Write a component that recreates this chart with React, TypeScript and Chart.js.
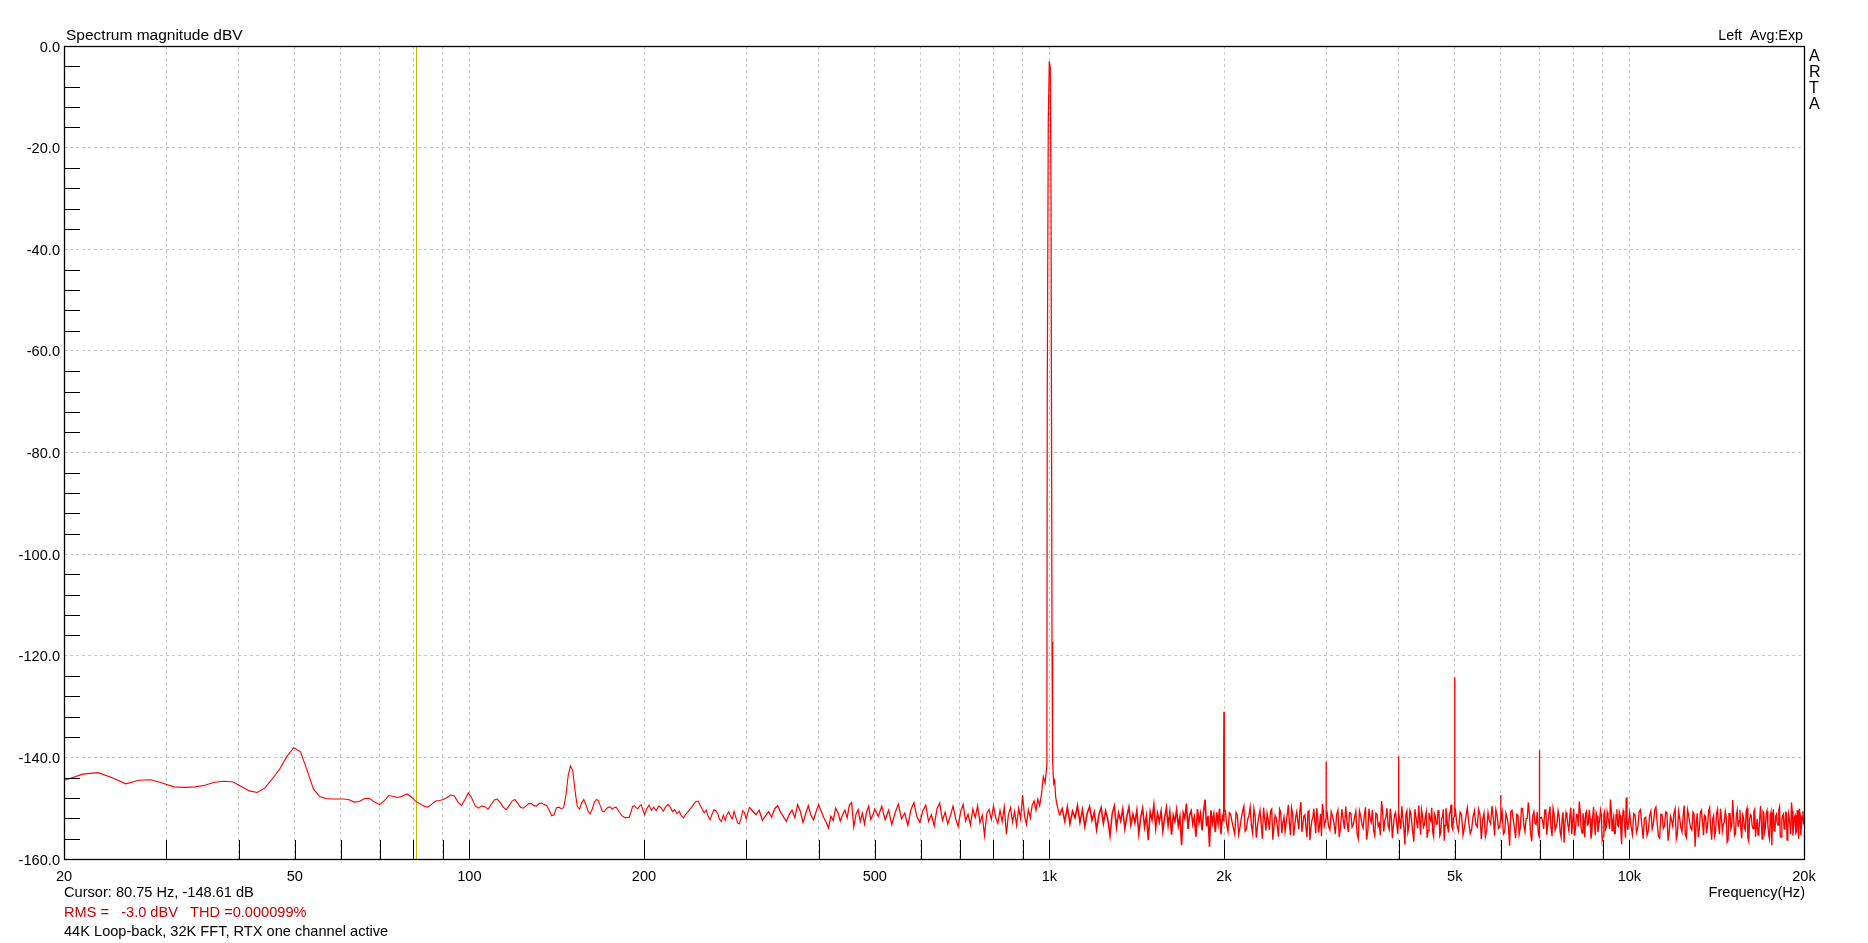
import React, { useEffect, useRef } from "react";
import { Chart, registerables } from "chart.js";

Chart.register(...registerables);

const FONT = '"Liberation Sans", Arial, Helvetica, sans-serif';

// ---------- Spectrum data (Hz, dBV) ----------
// 20 Hz – 200 Hz (FFT bins)
const lowFreq = [
  18.84, 20.19, 21.53, 22.88, 24.22, 25.57, 26.92, 28.26, 29.61, 30.95,
  32.3, 33.65, 34.99, 36.34, 37.68, 39.03, 40.37, 41.72, 43.07, 44.41,
  45.76, 47.1, 48.45, 49.8, 51.14, 52.49, 53.83, 55.18, 56.52, 57.87,
  59.22, 60.56, 61.91, 63.25, 64.6, 65.94, 67.29, 68.64, 69.98, 71.33,
  72.67, 74.02, 75.36, 76.71, 78.06, 79.4, 80.75, 82.09, 83.44, 84.79,
  86.13, 87.48, 88.82, 90.17, 91.51, 92.86, 94.21, 95.55, 96.9, 98.24,
  99.59, 100.93, 102.28, 103.63, 104.97, 106.32, 107.66, 109.01, 110.35, 111.7,
  113.05, 114.39, 115.74, 117.08, 118.43, 119.78, 121.12, 122.47, 123.81, 125.16,
  126.5, 127.85, 129.2, 130.54, 131.89, 133.23, 134.58, 135.93, 137.27, 138.62,
  139.96, 141.31, 142.65, 144.0, 145.35, 146.69, 148.04, 149.38, 150.73, 152.08,
  153.42, 154.77, 156.11, 157.46, 158.8, 160.15, 161.5, 162.84, 164.19, 165.53,
  166.88, 168.22, 169.57, 170.92, 172.26, 173.61, 174.95, 176.3, 177.65, 178.99,
  180.34, 181.68, 183.03, 184.37, 185.72, 187.07, 188.41, 189.76, 191.1, 192.45,
  193.8, 195.14, 196.49, 197.83, 199.18, 200.52,
];
const lowDb = [
  -145.0, -144.4, -143.3, -143.0, -144.0, -145.2, -144.5, -144.4, -145.1, -145.8,
  -145.9, -145.8, -145.5, -144.9, -144.7, -144.8, -145.7, -146.6, -146.9, -146.0,
  -144.2, -142.3, -139.8, -138.1, -138.9, -142.5, -146.2, -147.7, -148.1, -148.2,
  -148.2, -148.2, -148.3, -148.8, -148.7, -148.1, -148.1, -148.8, -149.3, -148.5,
  -147.5, -147.7, -147.9, -147.6, -147.2, -147.8, -148.61, -149.1, -149.6, -149.8,
  -149.2, -148.6, -148.5, -148.3, -147.9, -147.4, -147.6, -148.8, -149.5, -148.3,
  -147.0, -148.0, -149.5, -150.0, -149.6, -149.7, -150.2, -149.3, -148.4, -148.2,
  -148.9, -149.8, -150.3, -149.5, -148.6, -148.3, -149.0, -149.8, -150.0, -149.6,
  -149.1, -149.1, -149.5, -149.6, -149.1, -149.0, -149.3, -149.5, -150.4, -151.5,
  -151.3, -149.9, -149.8, -150.1, -149.9, -147.5, -143.5, -141.7, -142.6, -146.5,
  -149.6, -150.2, -149.0, -148.3, -149.3, -150.6, -151.1, -150.2, -148.9, -148.3,
  -148.5, -149.6, -150.6, -150.7, -150.1, -149.8, -149.8, -150.2, -149.9, -149.8,
  -150.3, -150.9, -151.4, -151.7, -151.9, -151.8, -151.9, -150.9, -149.7, -149.5,
  -149.9, -150.1, -149.6, -149.3, -150.4, -151.3,
];

// 200 Hz – 990 Hz
const midFreq = [
  202, 204, 206, 208, 210, 212, 214, 216, 218, 220,
  222, 224, 226, 228, 230, 232, 234, 236, 238, 240,
  242, 244, 246, 248, 250, 252, 254, 256, 258, 260,
  262, 264, 266, 268, 270, 272, 274, 276, 278, 280,
  282, 284, 286, 288, 290, 292, 294, 296, 298, 300,
  304, 308, 312, 316, 320, 324, 328, 332, 336, 340,
  344, 348, 352, 356, 360, 364, 368, 372, 376, 380,
  384, 388, 392, 396, 400, 404, 408, 412, 416, 420,
  424, 428, 432, 436, 440, 444, 448, 452, 456, 460,
  464, 468, 472, 476, 480, 484, 488, 492, 496, 500,
  507, 514, 521, 528, 535, 542, 549, 556, 563, 570,
  577, 584, 591, 598, 605, 612, 619, 626, 633, 640,
  647, 654, 661, 668, 675, 682, 689, 696, 703, 710,
  717, 724, 731, 738, 745, 752, 759, 766, 773, 780,
  787, 794, 801, 808, 815, 822, 829, 836, 843, 850,
  857, 864, 871, 878, 885, 892, 899, 906, 913, 920,
  927, 934, 941, 948, 955, 962, 969, 976, 983, 990,
];
const midDb = [
  -150.2, -149.4, -150.4, -149.8, -150.5, -149.6, -149.9, -150.6, -149.7, -149.3,
  -149.8, -150.7, -150.3, -151.1, -150.6, -151.5, -151.9, -151.2, -150.8, -150.2,
  -149.7, -149.1, -148.7, -148.6, -149.4, -150.2, -150.9, -150.4, -151.6, -152.3,
  -151.2, -150.3, -150.5, -151.1, -152.2, -152.6, -151.4, -152.4, -151.3, -150.7,
  -151.6, -152.1, -150.6, -151.8, -152.9, -153.1, -152.0, -150.5, -150.9, -152.1,
  -149.8, -150.6, -151.3, -150.4, -152.4, -151.5, -150.7, -151.8, -150.1, -149.5,
  -150.8, -151.7, -152.6, -151.2, -150.4, -151.9, -149.3, -150.6, -152.8, -151.1,
  -149.5, -151.4, -152.3, -150.7, -149.3, -150.5, -151.8, -152.7, -153.9, -151.6,
  -152.4, -150.0, -150.9, -152.5, -151.3, -150.4, -151.9, -149.4, -148.9, -153.7,
  -151.2, -150.3, -152.6, -151.0, -153.1, -150.7, -149.6, -152.2, -151.4, -150.2,
  -151.6, -149.6, -152.3, -150.4, -153.2, -150.9, -149.2, -152.1, -151.0, -153.4,
  -150.3, -148.9, -151.7, -152.8, -150.5, -149.4, -152.6, -151.3, -153.5, -150.1,
  -149.0, -152.4, -150.8, -153.1, -151.5, -149.6, -152.0, -153.6, -150.7, -149.3,
  -152.5, -151.2, -153.3, -150.2, -151.8, -149.5, -152.9, -151.4, -155.4, -151.0,
  -150.3, -152.2, -149.6, -151.9, -153.0, -150.4, -152.6, -149.8, -155.1, -151.2,
  -149.9, -152.7, -150.6, -153.4, -150.0, -152.1, -147.4, -151.5, -153.2, -150.3,
  -151.9, -149.4, -148.6, -150.4, -148.2, -149.5, -147.3, -143.8, -145.0, -141.5,
];

// 1 kHz fundamental
const fundFreq = [991.5, 995.6, 999.6, 1003.6, 1006.4, 1010.4, 1013.0, 1017.0, 1021.0, 1025.0];
const fundDb = [-69.5, -14.4, -3.0, -4.4, -30.1, -117.3, -141.1, -145.1, -144.5, -147.7];

// noise floor 1 kHz – 2 kHz
const noiseFreq1k = [
  1030, 1041, 1052, 1063, 1074, 1085, 1096, 1107, 1118, 1129,
  1140, 1151, 1162, 1173, 1184, 1195, 1206, 1217, 1228, 1239,
  1250, 1261, 1272, 1283, 1294, 1305, 1316, 1327, 1338, 1349,
  1360, 1371, 1382, 1393, 1404, 1415, 1426, 1437, 1448, 1459,
  1470, 1481, 1492, 1503, 1514, 1525, 1536, 1547, 1558, 1569,
  1580, 1591, 1602, 1613, 1624, 1635, 1646, 1657, 1668, 1679,
  1690, 1701, 1712, 1723, 1734, 1745, 1756, 1767, 1778, 1789,
  1800, 1811, 1822, 1833, 1844, 1855, 1866, 1877, 1888, 1899,
  1910, 1921, 1932, 1943, 1954, 1965, 1976, 1987, 1996,
];
const noiseDb1k = [
  -149.2, -151.4, -150.1, -152.6, -149.8, -153.1, -150.6, -151.9, -149.5, -152.8,
  -150.3, -153.6, -151.0, -149.7, -152.4, -150.8, -154.2, -151.3, -149.9, -153.0,
  -150.5, -152.2, -155.4, -151.1, -149.6, -153.8, -150.9, -152.5, -150.2, -154.0,
  -151.6, -149.8, -153.3, -151.2, -152.9, -150.4, -155.0, -151.8, -150.0, -153.7,
  -151.5, -156.3, -150.7, -152.3, -149.4, -153.9, -151.0, -152.7, -150.6, -154.5,
  -151.9, -149.9, -153.4, -150.8, -155.2, -151.4, -152.6, -150.3, -153.5, -151.7,
  -157.3, -150.9, -152.0, -149.1, -154.1, -151.3, -150.5, -153.2, -151.8, -155.6,
  -150.2, -152.8, -151.1, -154.4, -150.7, -148.3, -153.6, -151.5, -157.6, -150.4,
  -152.9, -151.2, -154.7, -150.8, -153.0, -150.1, -155.1, -151.6, -152.4,
];

// noise floor 2 kHz – 3 kHz
const noiseFreq2k = [
  2010, 2032, 2054, 2076, 2098, 2120, 2142, 2164, 2186, 2208,
  2230, 2252, 2274, 2296, 2318, 2340, 2362, 2384, 2406, 2428,
  2450, 2472, 2494, 2516, 2538, 2560, 2582, 2604, 2626, 2648,
  2670, 2692, 2714, 2736, 2758, 2780, 2802, 2824, 2846, 2868,
  2890, 2912, 2934, 2956, 2978,
];
const noiseDb2k = [
  -150.3, -154.6, -151.2, -153.9, -150.8, -155.2, -152.0, -149.6, -154.1, -151.5,
  -153.4, -150.1, -155.8, -151.7, -153.0, -149.9, -154.4, -152.3, -150.6, -156.2,
  -151.4, -153.7, -150.2, -154.9, -151.8, -152.9, -149.4, -155.3, -151.0, -153.6,
  -150.7, -154.2, -148.8, -153.1, -151.3, -155.7, -150.5, -154.0, -151.9, -152.6,
  -150.0, -154.8, -151.1, -149.2, -153.5,
];
const noiseFreq2kB = [
  2021, 2043, 2065, 2087, 2109, 2131, 2153, 2175, 2197, 2219,
  2241, 2263, 2285, 2307, 2329, 2351, 2373, 2395, 2417, 2439,
  2461, 2483, 2505, 2527, 2549, 2571, 2593, 2615, 2637, 2659,
  2681, 2703, 2725, 2747, 2769, 2791, 2813, 2835, 2857, 2879,
  2901, 2923, 2945, 2967,
];
const noiseDb2kB = [
  -153.2, -150.9, -152.7, -155.1, -151.4, -153.8, -150.6, -154.5, -152.2, -149.8,
  -155.0, -151.6, -153.4, -150.4, -156.0, -152.1, -151.0, -154.3, -150.2, -153.5,
  -151.9, -155.6, -150.8, -152.9, -154.6, -151.2, -153.0, -149.9, -155.4, -151.7,
  -152.6, -150.3, -154.7, -151.5, -153.9, -150.7, -156.3, -152.4, -150.1, -154.9,
  -151.8, -153.3, -155.5, -150.5,
];

// noise floor 3 kHz – 5 kHz
const noiseFreq3k = [
  3012, 3045, 3078, 3111, 3144, 3177, 3210, 3243, 3276, 3309,
  3342, 3375, 3408, 3441, 3474, 3507, 3540, 3573, 3606, 3639,
  3672, 3705, 3738, 3771, 3804, 3837, 3870, 3903, 3936, 3969,
  4002, 4035, 4068, 4101, 4134, 4167, 4200, 4233, 4266, 4299,
  4332, 4365, 4398, 4431, 4464, 4497, 4530, 4563, 4596, 4629,
  4662, 4695, 4728, 4761, 4794, 4827, 4860, 4893, 4926, 4959,
  4992,
];
const noiseDb3k = [
  -150.9, -154.3, -151.6, -155.1, -150.4, -153.8, -152.2, -149.7, -154.7, -151.0,
  -153.2, -150.6, -156.0, -151.5, -153.9, -149.8, -154.5, -152.1, -150.3, -155.4,
  -151.2, -153.0, -148.6, -154.6, -151.7, -153.5, -150.1, -155.9, -151.3, -152.8,
  -150.8, -154.1, -151.9, -157.2, -150.5, -153.6, -151.1, -154.9, -150.2, -152.7,
  -149.5, -155.2, -151.4, -153.3, -150.7, -154.4, -152.0, -149.9, -155.6, -151.6,
  -153.1, -150.4, -154.8, -151.8, -156.4, -150.0, -153.7, -151.2, -149.3, -154.2,
  -151.5,
];
const noiseFreq3kB = [
  3028, 3061, 3094, 3127, 3160, 3193, 3226, 3259, 3292, 3325,
  3358, 3391, 3424, 3457, 3490, 3523, 3556, 3589, 3622, 3655,
  3688, 3721, 3754, 3787, 3820, 3853, 3886, 3919, 3952, 3985,
  4018, 4051, 4084, 4117, 4150, 4183, 4216, 4249, 4282, 4315,
  4348, 4381, 4414, 4447, 4480, 4513, 4546, 4579, 4612, 4645,
  4678, 4711, 4744, 4777, 4810, 4843, 4876, 4909, 4942, 4975,
];
const noiseDb3kB = [
  -153.5, -150.7, -152.9, -151.3, -155.7, -150.2, -154.1, -152.6, -150.9, -153.7,
  -151.8, -154.9, -150.5, -153.1, -151.6, -156.2, -150.1, -152.8, -154.4, -151.0,
  -153.6, -155.3, -150.6, -152.4, -150.0, -154.2, -151.9, -153.3, -150.8, -155.0,
  -152.3, -149.6, -153.9, -151.2, -154.7, -150.4, -153.0, -156.6, -151.5, -154.0,
  -152.1, -150.3, -153.8, -151.7, -155.8, -150.9, -152.5, -154.6, -151.1, -153.2,
  -150.5, -155.4, -152.0, -150.2, -153.4, -151.4, -154.8, -150.7, -153.6, -151.9,
];

// noise floor 5 kHz – 10 kHz
const noiseFreq5k = [
  5015, 5075, 5135, 5195, 5255, 5315, 5375, 5435, 5495, 5555,
  5615, 5675, 5735, 5795, 5855, 5915, 5975, 6035, 6095, 6155,
  6215, 6275, 6335, 6395, 6455, 6515, 6575, 6635, 6695, 6755,
  6815, 6875, 6935, 6995, 7055, 7115, 7175, 7235, 7295, 7355,
  7415, 7475, 7535, 7595, 7655, 7715, 7775, 7835, 7895, 7955,
  8015, 8075, 8135, 8195, 8255, 8315, 8375, 8435, 8495, 8555,
  8615, 8675, 8735, 8795, 8855, 8915, 8975, 9035, 9095, 9155,
  9215, 9275, 9335, 9395, 9455, 9515, 9575, 9635, 9695, 9755,
  9815, 9875, 9935,
];
const noiseDb5k = [
  -150.6, -154.5, -151.3, -153.8, -149.9, -155.0, -151.7, -153.2, -150.2, -156.1,
  -151.0, -154.3, -152.4, -149.6, -155.4, -151.5, -153.6, -150.8, -154.7, -151.9,
  -157.4, -150.4, -153.9, -151.2, -155.2, -150.0, -153.3, -152.1, -148.9, -154.9,
  -151.4, -153.0, -150.7, -155.8, -151.8, -154.1, -150.3, -152.9, -149.7, -155.5,
  -151.1, -153.7, -150.5, -154.6, -152.2, -156.8, -150.9, -153.4, -151.6, -155.1,
  -150.1, -154.0, -151.3, -148.7, -153.8, -151.0, -155.7, -150.6, -153.1, -152.0,
  -154.8, -149.8, -155.3, -151.5, -153.5, -150.4, -156.3, -151.2, -154.2, -150.8,
  -152.7, -148.3, -154.4, -151.7, -155.0, -150.2, -153.6, -151.4, -157.1, -150.5,
  -153.9, -147.9, -154.3,
];
const noiseFreq5kB = [
  5045, 5105, 5165, 5225, 5285, 5345, 5405, 5465, 5525, 5585,
  5645, 5705, 5765, 5825, 5885, 5945, 6005, 6065, 6125, 6185,
  6245, 6305, 6365, 6425, 6485, 6545, 6605, 6665, 6725, 6785,
  6845, 6905, 6965, 7025, 7085, 7145, 7205, 7265, 7325, 7385,
  7445, 7505, 7565, 7625, 7685, 7745, 7805, 7865, 7925, 7985,
  8045, 8105, 8165, 8225, 8285, 8345, 8405, 8465, 8525, 8585,
  8645, 8705, 8765, 8825, 8885, 8945, 9005, 9065, 9125, 9185,
  9245, 9305, 9365, 9425, 9485, 9545, 9605, 9665, 9725, 9785,
  9845, 9905,
];
const noiseDb5kB = [
  -153.4, -150.8, -155.3, -151.6, -152.9, -154.2, -150.5, -153.7, -151.2, -152.3,
  -155.6, -150.9, -153.1, -151.8, -150.3, -154.0, -152.6, -155.1, -151.0, -153.5,
  -150.6, -152.2, -155.9, -151.4, -153.8, -150.1, -154.6, -152.0, -151.3, -156.5,
  -150.7, -153.2, -154.8, -151.9, -152.5, -150.4, -155.2, -151.1, -153.9, -150.0,
  -154.3, -152.8, -151.5, -155.7, -150.8, -153.0, -151.7, -154.5, -149.9, -152.4,
  -155.4, -151.2, -153.6, -150.5, -154.9, -152.1, -151.0, -153.3, -150.3, -156.0,
  -151.6, -153.1, -150.9, -154.7, -152.3, -151.4, -155.5, -150.6, -153.7, -151.8,
  -154.1, -150.2, -152.7, -155.0, -151.3, -153.4, -150.7, -154.4, -152.0, -151.1,
  -155.8, -152.5,
];

// noise floor 10 kHz – 20 kHz
const noiseFreq10k = [
  10010, 10120, 10230, 10340, 10450, 10560, 10670, 10780, 10890, 11000,
  11110, 11220, 11330, 11440, 11550, 11660, 11770, 11880, 11990, 12100,
  12210, 12320, 12430, 12540, 12650, 12760, 12870, 12980, 13090, 13200,
  13310, 13420, 13530, 13640, 13750, 13860, 13970, 14080, 14190, 14300,
  14410, 14520, 14630, 14740, 14850, 14960, 15070, 15180, 15290, 15400,
  15510, 15620, 15730, 15840, 15950, 16060, 16170, 16280, 16390, 16500,
  16610, 16720, 16830, 16940, 17050, 17160, 17270, 17380, 17490, 17600,
  17710, 17820, 17930, 18040, 18150, 18260, 18370, 18480, 18590, 18700,
  18810, 18920, 19030, 19140, 19250, 19360, 19470, 19580, 19690, 19800,
  19910, 19995,
];
const noiseDb10k = [
  -150.9, -155.2, -151.4, -153.8, -150.3, -156.0, -151.8, -154.4, -150.6, -153.1,
  -149.8, -155.5, -151.2, -154.0, -150.7, -156.4, -151.6, -153.6, -150.1, -155.0,
  -152.0, -154.7, -149.5, -155.8, -151.3, -153.9, -150.8, -157.6, -151.0, -154.2,
  -150.4, -155.3, -151.7, -153.4, -149.9, -156.2, -151.5, -154.6, -150.2, -155.1,
  -151.9, -153.2, -150.6, -156.7, -151.1, -154.1, -148.4, -155.4, -151.4, -153.7,
  -150.3, -155.9, -151.8, -154.3, -150.0, -156.5, -151.3, -153.5, -150.7, -155.6,
  -152.1, -154.8, -149.6, -156.1, -151.0, -153.8, -150.5, -155.2, -151.6, -157.3,
  -150.2, -154.5, -151.2, -153.3, -149.7, -155.7, -151.5, -154.0, -150.8, -156.3,
  -151.1, -153.6, -148.9, -155.4, -151.7, -154.9, -150.4, -156.0, -151.3, -153.4,
  -150.6, -152.8,
];
const noiseFreq10kB = [
  10065, 10175, 10285, 10395, 10505, 10615, 10725, 10835, 10945, 11055,
  11165, 11275, 11385, 11495, 11605, 11715, 11825, 11935, 12045, 12155,
  12265, 12375, 12485, 12595, 12705, 12815, 12925, 13035, 13145, 13255,
  13365, 13475, 13585, 13695, 13805, 13915, 14025, 14135, 14245, 14355,
  14465, 14575, 14685, 14795, 14905, 15015, 15125, 15235, 15345, 15455,
  15565, 15675, 15785, 15895, 16005, 16115, 16225, 16335, 16445, 16555,
  16665, 16775, 16885, 16995, 17105, 17215, 17325, 17435, 17545, 17655,
  17765, 17875, 17985, 18095, 18205, 18315, 18425, 18535, 18645, 18755,
  18865, 18975, 19085, 19195, 19305, 19415, 19525, 19635, 19745, 19855,
  19965,
];
const noiseDb10kB = [
  -153.6, -151.1, -154.8, -150.7, -153.2, -152.0, -155.4, -151.5, -154.1, -150.4,
  -152.8, -155.9, -151.3, -153.5, -150.9, -154.6, -152.4, -151.0, -156.1, -150.6,
  -153.8, -151.7, -155.2, -150.3, -152.9, -154.3, -151.2, -153.1, -155.7, -150.8,
  -152.6, -151.4, -154.9, -150.5, -153.7, -152.2, -155.5, -151.0, -153.3, -150.1,
  -154.5, -152.7, -151.6, -156.3, -150.9, -153.4, -151.8, -155.0, -150.4, -152.5,
  -154.2, -151.3, -153.9, -150.6, -155.8, -152.1, -151.5, -154.0, -150.2, -153.6,
  -155.3, -151.9, -152.8, -150.7, -154.7, -151.1, -153.2, -156.0, -150.8, -152.4,
  -154.4, -151.6, -153.0, -150.3, -155.6, -152.3, -151.2, -154.1, -150.9, -153.8,
  -152.0, -155.1, -150.5, -153.5, -151.4, -154.6, -152.6, -150.1, -155.3, -151.7,
  -153.1,
];

// harmonics 2k..7k (bins around each line)
const harmFreq = [
  1998.6, 2000.0, 2001.3,
  2998.6, 2999.9, 3001.3,
  3997.2, 3998.5, 3999.9, 4001.2,
  4998.5, 4999.8, 5001.1,
  5998.5, 5999.8, 6001.1,
  6997.1, 6998.4, 6999.8, 7001.1,
];
const harmDb = [
  -141.7, -131.0, -150.6,
  -152.1, -140.9, -151.4,
  -152.5, -140.0, -139.8, -151.2,
  -150.8, -124.3, -149.6,
  -152.0, -147.4, -151.7,
  -150.9, -139.5, -138.6, -152.2,
];

// ---------- axes / labels ----------
const yTicks = [0, -20, -40, -60, -80, -100, -120, -140, -160];
const yMinorTicks = [
  -4, -8, -12, -16, -24, -28, -32, -36, -44, -48, -52, -56, -64, -68, -72, -76,
  -84, -88, -92, -96, -104, -108, -112, -116, -124, -128, -132, -136, -144, -148, -152, -156,
];
const xGrid = [
  20, 30, 40, 50, 60, 70, 80, 90, 100, 200, 300, 400, 500, 600, 700, 800, 900,
  1000, 2000, 3000, 4000, 5000, 6000, 7000, 8000, 9000, 10000, 20000,
];
const xLabels: Record<number, string> = {
  20: "20", 50: "50", 100: "100", 200: "200", 500: "500",
  1000: "1k", 2000: "2k", 5000: "5k", 10000: "10k", 20000: "20k",
};
const cursorHz = 80.75;
const cursorDb = -148.61;
const rmsDbv = -3.0;
const thdPercent = "0.000099";
const titleText = "Spectrum magnitude dBV";
const channelText = "Left  Avg:Exp";
const brandLetters = ["A", "R", "T", "A"];
const xTitle = "Frequency(Hz)";
const noteText = "44K Loop-back, 32K FFT, RTX one channel active";

function buildPoints() {
  const segs: [number[], number[]][] = [
    [lowFreq, lowDb], [midFreq, midDb], [fundFreq, fundDb],
    [noiseFreq1k, noiseDb1k], [noiseFreq2k, noiseDb2k], [noiseFreq2kB, noiseDb2kB],
    [noiseFreq3k, noiseDb3k], [noiseFreq3kB, noiseDb3kB],
    [noiseFreq5k, noiseDb5k], [noiseFreq5kB, noiseDb5kB],
    [noiseFreq10k, noiseDb10k], [noiseFreq10kB, noiseDb10kB], [harmFreq, harmDb],
  ];
  const pts: { x: number; y: number }[] = [];
  for (const [f, d] of segs) {
    const n = Math.min(f.length, d.length);
    for (let i = 0; i < n; i++) pts.push({ x: f[i], y: d[i] });
  }
  pts.sort((a, b) => a.x - b.x);
  return pts;
}

const decor = {
  id: "decor",
  beforeDatasetsDraw(chart: any) {
    const { ctx, chartArea, scales } = chart;
    const x = Math.round(scales.x.getPixelForValue(cursorHz)) + 0.5;
    ctx.save();
    ctx.strokeStyle = "#c4bc00";
    ctx.lineWidth = 1;
    ctx.beginPath();
    ctx.moveTo(x, chartArea.top);
    ctx.lineTo(x, chartArea.bottom);
    ctx.stroke();
    ctx.restore();
  },
  afterDraw(chart: any) {
    const { ctx, chartArea, scales } = chart;
    const { left, top, right, bottom } = chartArea;
    const xs = scales.x;
    const ys = scales.y;
    ctx.save();
    ctx.strokeStyle = "#000";
    ctx.lineWidth = 1;
    ctx.beginPath();
    for (const v of yMinorTicks) {
      const y = Math.round(ys.getPixelForValue(v)) + 0.5;
      ctx.moveTo(left, y);
      ctx.lineTo(left + 16, y);
    }
    for (const v of xGrid) {
      if (v === 20 || v === 20000) continue;
      const x = Math.round(xs.getPixelForValue(v)) + 0.5;
      ctx.moveTo(x, bottom);
      ctx.lineTo(x, bottom - 19);
    }
    ctx.stroke();
    ctx.lineWidth = 1.3;
    ctx.strokeRect(left + 0.5, top + 0.5, right - left, bottom - top);

    ctx.fillStyle = "#000";
    ctx.textBaseline = "alphabetic";
    ctx.font = `15.5px ${FONT}`;
    ctx.textAlign = "left";
    ctx.fillText(titleText, left + 2, top - 6);
    ctx.font = `14.3px ${FONT}`;
    ctx.textAlign = "right";
    ctx.fillText(channelText, right - 1, top - 6);
    ctx.font = `16px ${FONT}`;
    ctx.textAlign = "left";
    brandLetters.forEach((ch, i) => ctx.fillText(ch, right + 5, top + 15 + i * 16));

    ctx.font = `14.6px ${FONT}`;
    ctx.textAlign = "left";
    ctx.fillText(`Cursor: ${cursorHz} Hz, ${cursorDb} dB`, left, bottom + 38);
    ctx.textAlign = "right";
    ctx.fillText(xTitle, right + 1, bottom + 38);
    ctx.textAlign = "left";
    ctx.fillStyle = "#cc0000";
    ctx.fillText(`RMS =   ${rmsDbv.toFixed(1)} dBV   THD =${thdPercent}%`, left, bottom + 58);
    ctx.fillStyle = "#000";
    ctx.fillText(noteText, left, bottom + 77);
    ctx.restore();
  },
};

export default function App() {
  const ref = useRef<HTMLCanvasElement>(null);
  useEffect(() => {
    document.body.style.margin = "0";
    const canvas = ref.current;
    if (!canvas) return;
    const chart = new Chart(canvas, {
      type: "line",
      data: {
        datasets: [
          {
            data: buildPoints(),
            borderColor: "#ff0000",
            borderWidth: 1.1,
            pointRadius: 0,
            tension: 0,
            fill: false,
            segment: {
              borderWidth: (c: any) => (c.p0.parsed.x > 2005 ? 1.35 : c.p0.parsed.x > 1030 ? 1.6 : c.p0.parsed.x > 300 ? 1.25 : 1.1),
            },
          },
        ],
      },
      options: {
        responsive: false,
        animation: false,
        devicePixelRatio: 1,
        parsing: false,
        normalized: true,
        layout: { padding: { top: 46, right: 64, bottom: 0, left: 0 } },
        plugins: { legend: { display: false }, tooltip: { enabled: false }, title: { display: false } },
        scales: {
          x: {
            type: "logarithmic",
            min: 20,
            max: 20000,
            position: "bottom",
            afterBuildTicks: (s: any) => {
              s.ticks = xGrid.map((v) => ({ value: v }));
            },
            afterFit: (s: any) => {
              s.height = 84;
            },
            ticks: {
              autoSkip: false,
              maxRotation: 0,
              minRotation: 0,
              padding: 9,
              color: "#000",
              font: { family: FONT, size: 14.6 },
              callback: (v: any) => xLabels[Number(v)] ?? "",
            },
            grid: { color: "#c8c8c8", lineWidth: 1, drawTicks: false },
            border: { display: false, dash: [3, 3] },
          },
          y: {
            type: "linear",
            min: -160,
            max: 0,
            afterBuildTicks: (s: any) => {
              s.ticks = yTicks.map((v) => ({ value: v }));
            },
            afterFit: (s: any) => {
              s.width = 64;
            },
            ticks: {
              padding: 4,
              labelOffset: 1.5,
              color: "#000",
              font: { family: FONT, size: 14.6 },
              callback: (v: any) => Number(v).toFixed(1),
            },
            grid: { color: "#c8c8c8", lineWidth: 1, drawTicks: false },
            border: { display: false, dash: [3, 3] },
          },
        },
      },
      plugins: [decor],
    } as any);
    return () => chart.destroy();
  }, []);
  return (
    <div style={{ position: "absolute", left: 0, top: 0, width: 1868, height: 943, background: "#fff" }}>
      <canvas ref={ref} width={1868} height={943} style={{ display: "block", width: 1868, height: 943 }} />
    </div>
  );
}
